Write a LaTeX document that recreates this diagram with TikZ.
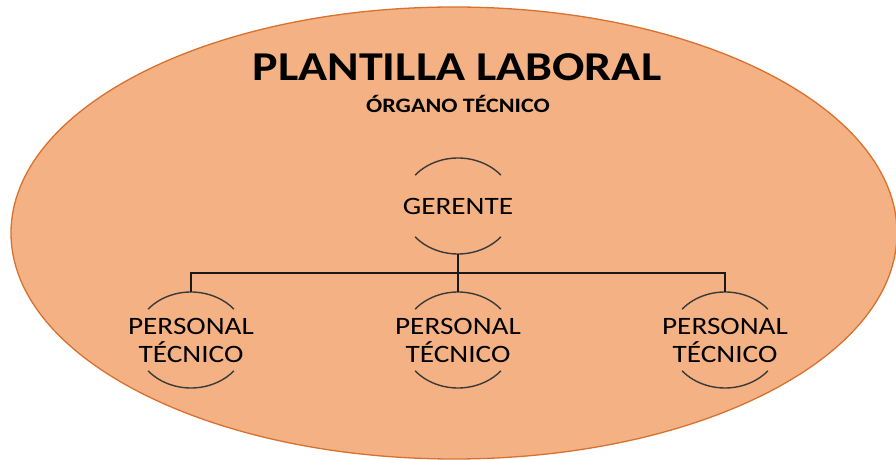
\documentclass[tikz,border=0pt]{standalone}
\usepackage{fontspec}
\setmainfont{Carlito}[FakeStretch=1.17]
\definecolor{planfill}{HTML}{F4B183}
\definecolor{planline}{HTML}{D8712E}
\definecolor{arcgray}{HTML}{3A3A3A}
\tikzset{
  staffnode/.style = {shape=rectangle, inner sep=0pt, minimum height=96pt,
                      align=center, font=\fontsize{25}{28}\selectfont},
  rim/.style       = {draw=arcgray, line width=1.4pt},
  link/.style      = {draw=black!90, line width=1.4pt}
}
\begin{document}
\begin{tikzpicture}
  [
    x = 1pt,
    y = 1pt
  ]
  \useasboundingbox (0,0) rectangle (896,460);
  \draw[fill=planfill, draw=planline, line width=1.3pt]
    (454,227) ellipse [x radius=443pt, y radius=226pt];
  \node (title) at (457,393) {\fontsize{41}{42}\selectfont\bfseries PLANTILLA LABORAL};
  \node (organ) at (458,356) {\fontsize{20.5}{21}\selectfont\bfseries ÓRGANO TÉCNICO};
  \node [staffnode] (ger) at (458,254) {GERENTE};
  \node [staffnode] (pt1) at (191,120) {PERSONAL\\TÉCNICO};
  \node [staffnode] (pt2) at (458,120) {PERSONAL\\TÉCNICO};
  \node [staffnode] (pt3) at (725,120) {PERSONAL\\TÉCNICO};
  \foreach \n in {ger,pt1,pt2,pt3} {
    \draw[rim] ([shift={(140:56pt and 48pt)}]\n.center)
      arc[start angle=140, end angle=40, x radius=56pt, y radius=48pt];
    \draw[rim] ([shift={(220:56pt and 48pt)}]\n.center)
      arc[start angle=220, end angle=320, x radius=56pt, y radius=48pt];
  }
  \draw[link] (ger.south) -- ++(0,-19) -| (pt1.north);
  \draw[link] (ger.south) -- ++(0,-19) -| (pt3.north);
  \draw[link] (ger.south) -- (pt2.north);
\end{tikzpicture}
\end{document}
